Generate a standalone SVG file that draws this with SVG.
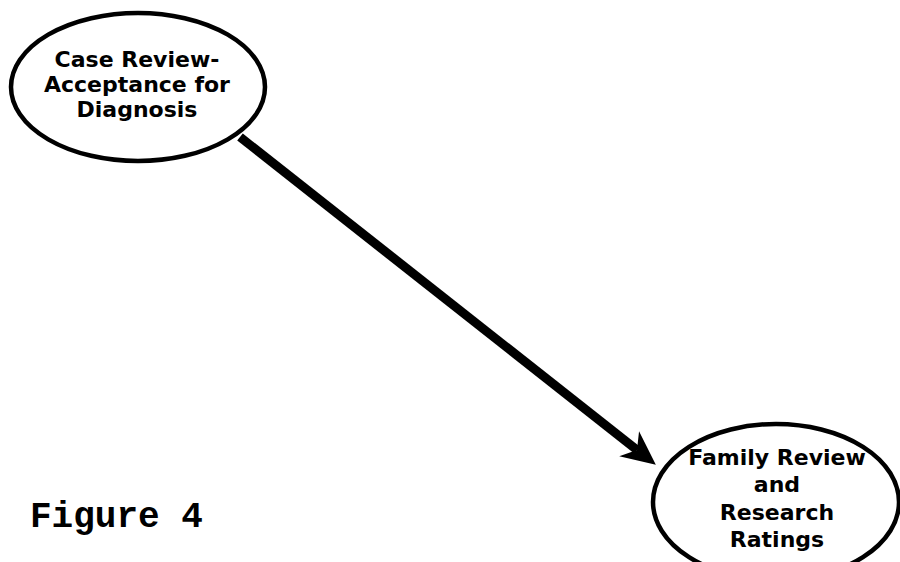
<svg xmlns="http://www.w3.org/2000/svg" width="900" height="562" viewBox="0 0 900 562">
<style>
.node ellipse{fill:#fff;stroke:#000;stroke-width:4.5}
.lbl{font-family:"DejaVu Sans","Liberation Sans",sans-serif;font-weight:bold;font-size:22px;fill:#000;text-anchor:middle}
.fig{font-family:"Liberation Mono","DejaVu Sans Mono",monospace;font-weight:bold;font-size:36px;fill:#000}
</style>
<defs>
<marker id="ah" markerUnits="userSpaceOnUse" markerWidth="34" markerHeight="34" refX="10" refY="16" orient="auto" viewBox="0 0 34 32">
<path d="M34,16 L0,0 L10,16 L0,32 Z" fill="#000"/>
</marker>
</defs>
<rect width="900" height="562" fill="#fff"/>
<g id="connectors">
<line x1="240" y1="137" x2="637" y2="450" stroke="#000" stroke-width="9" marker-end="url(#ah)"/>
</g>
<g id="node-case-review" class="node">
<ellipse cx="138" cy="87" rx="127" ry="74"/>
<text class="lbl" x="137" y="67">Case Review-</text>
<text class="lbl" x="137" y="92">Acceptance for</text>
<text class="lbl" x="137" y="117">Diagnosis</text>
</g>
<g id="node-family-review" class="node">
<ellipse cx="776" cy="502" rx="123" ry="78"/>
<text class="lbl" x="777" y="465">Family Review</text>
<text class="lbl" x="777" y="492">and</text>
<text class="lbl" x="777" y="520">Research</text>
<text class="lbl" x="777" y="547">Ratings</text>
</g>
<text class="fig" x="30" y="527">Figure 4</text>
</svg>
